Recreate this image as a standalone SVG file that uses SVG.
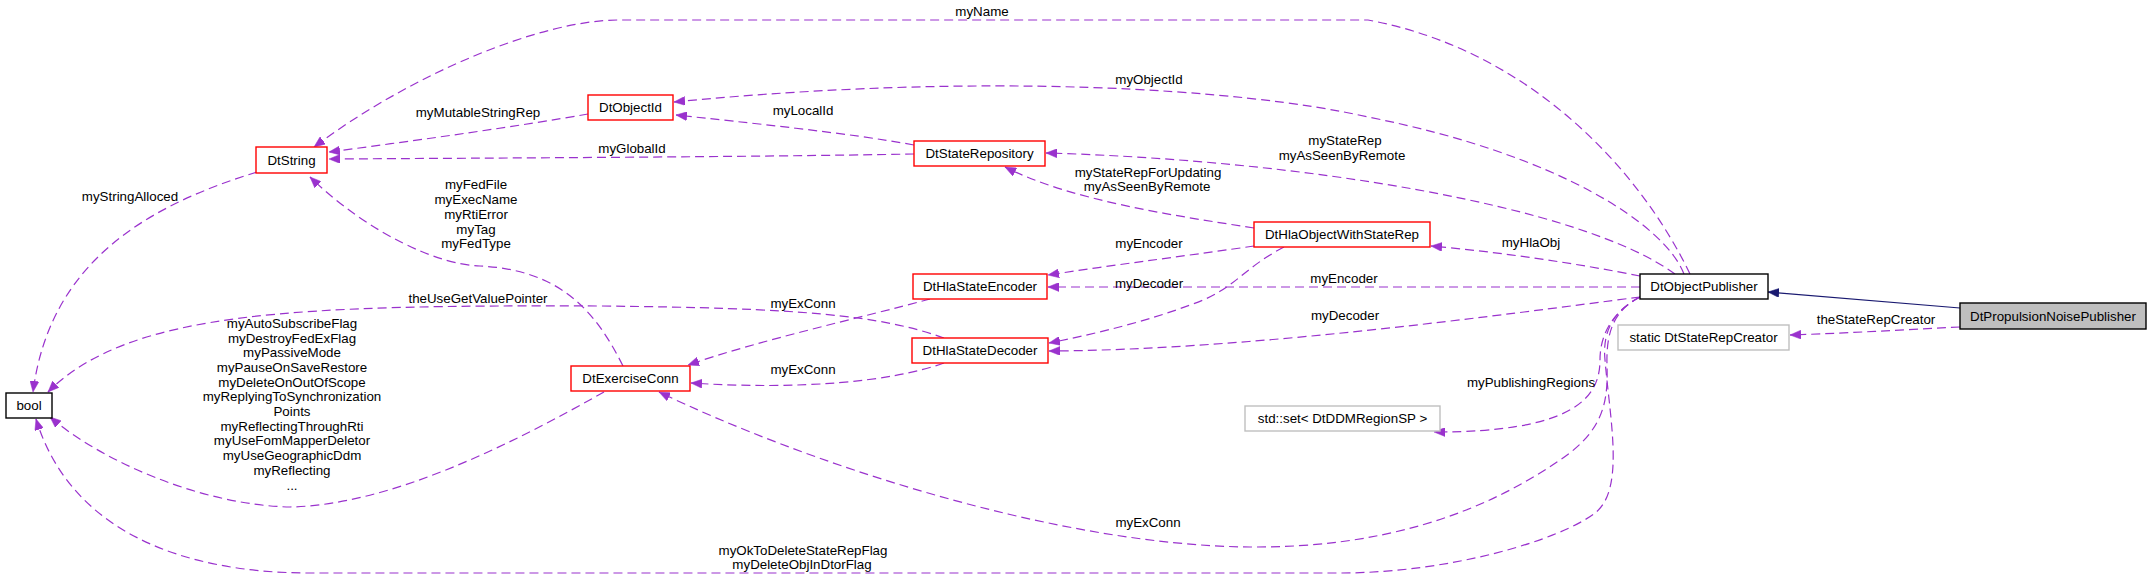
<svg xmlns="http://www.w3.org/2000/svg" width="2152" height="579" viewBox="0 0 2152 579">
<style>
text{font-family:"Liberation Sans",Arial,sans-serif;font-size:13.33px;fill:#000}
.n text{text-anchor:middle}
.lbl{text-anchor:middle}
.red{fill:#fff;stroke:#ff0000;stroke-width:1.4}
.blk{fill:#fff;stroke:#000;stroke-width:1.4}
.gry{fill:#fff;stroke:#bfbfbf;stroke-width:1.4}
.cur{fill:#bfbfbf;stroke:#000;stroke-width:1.4}
.e{fill:none;stroke:#9a32cd;stroke-width:1.2;stroke-dasharray:9,5;marker-end:url(#ap)}
.inh{fill:none;stroke:#191970;stroke-width:1.2;marker-end:url(#ab)}
</style>
<defs>
<marker id="ap" markerUnits="userSpaceOnUse" markerWidth="12" markerHeight="9" refX="11" refY="4.5" orient="auto">
<path d="M0,0 L11,4.5 L0,9 z" fill="#9a32cd" stroke="#9a32cd" stroke-width="0.5"/>
</marker>
<marker id="ab" markerUnits="userSpaceOnUse" markerWidth="12" markerHeight="9" refX="11" refY="4.5" orient="auto">
<path d="M0,0 L11,4.5 L0,9 z" fill="#191970" stroke="#191970" stroke-width="0.5"/>
</marker>
</defs>
<rect width="2152" height="579" fill="#fff"/>
<g id="connectors">
<path class="e" d="M1690,274 C1640,170 1530,50 1368,20 L619,20 C540,20 410,75 314,147"/>
<path class="e" d="M1684,274 C1665,225 1560,155 1368,117 C1240,88 980,72 674,102"/>
<path class="e" d="M1675,274 C1580,205 1300,160 1046,153"/>
<path class="e" d="M1640,276 C1580,264 1500,252 1431,246"/>
<path class="e" d="M1640,287 L1048,287"/>
<path class="e" d="M1640,297 C1500,315 1250,350 1049,351"/>
<path class="e" d="M1254,246 C1200,254 1120,264 1048,275"/>
<path class="e" d="M1284,247 C1240,270 1235,290 1190,305 C1150,320 1100,333 1049,343"/>
<path class="e" d="M1254,228 C1170,215 1070,200 1005,167"/>
<path class="e" d="M914,145 C850,133 740,122 676,115"/>
<path class="e" d="M914,154 C750,157 500,158 329,159"/>
<path class="e" d="M588,114 C520,126 420,140 329,152"/>
<path class="e" d="M257,172 C150,205 50,260 33,392"/>
<path class="e" d="M623,366 C595,310 560,270 480,266 C440,265 370,235 310,177"/>
<path class="e" d="M944,338 C880,315 800,308 600,306 C300,305 130,310 48,392"/>
<path class="e" d="M930,299 C860,318 760,340 688,365"/>
<path class="e" d="M944,363 C890,382 800,390 691,383"/>
<path class="e" d="M604,392 C510,445 390,505 290,507 C200,505 100,460 50,417"/>
<path class="e" d="M1640,297 C1615,310 1602,330 1605,360 C1610,420 1625,490 1595,513 C1560,540 1450,573 1340,573 L310,573 C180,573 70,530 36,419"/>
<path class="e" d="M1640,297 C1615,310 1606,330 1607,365 C1608,400 1605,430 1560,460 C1480,515 1380,548 1250,547 C1050,545 800,460 659,392"/>
<path class="e" d="M1640,297 C1612,312 1600,335 1600,360 C1600,400 1570,432 1434,432"/>
<path class="e" d="M1960,327 C1900,330 1850,333 1790,335"/>
<path class="inh" d="M1960,308 L1768,292"/>
<text class="lbl" x="982" y="16">myName</text>
<text class="lbl" x="1149" y="84">myObjectId</text>
<text class="lbl" x="1345" y="145">myStateRep</text>
<text class="lbl" x="1342" y="160">myAsSeenByRemote</text>
<text class="lbl" x="1531" y="247">myHlaObj</text>
<text class="lbl" x="1344" y="283">myEncoder</text>
<text class="lbl" x="1345" y="320">myDecoder</text>
<text class="lbl" x="1149" y="248">myEncoder</text>
<text class="lbl" x="1149" y="288">myDecoder</text>
<text class="lbl" x="1148" y="177">myStateRepForUpdating</text>
<text class="lbl" x="1147" y="191">myAsSeenByRemote</text>
<text class="lbl" x="803" y="115">myLocalId</text>
<text class="lbl" x="632" y="153">myGlobalId</text>
<text class="lbl" x="478" y="117">myMutableStringRep</text>
<text class="lbl" x="130" y="201">myStringAlloced</text>
<text class="lbl" x="476" y="189">myFedFile</text>
<text class="lbl" x="476" y="204">myExecName</text>
<text class="lbl" x="476" y="219">myRtiError</text>
<text class="lbl" x="476" y="234">myTag</text>
<text class="lbl" x="476" y="248">myFedType</text>
<text class="lbl" x="478" y="303">theUseGetValuePointer</text>
<text class="lbl" x="803" y="308">myExConn</text>
<text class="lbl" x="803" y="374">myExConn</text>
<text class="lbl" x="292" y="328">myAutoSubscribeFlag</text>
<text class="lbl" x="292" y="343">myDestroyFedExFlag</text>
<text class="lbl" x="292" y="357">myPassiveMode</text>
<text class="lbl" x="292" y="372">myPauseOnSaveRestore</text>
<text class="lbl" x="292" y="387">myDeleteOnOutOfScope</text>
<text class="lbl" x="292" y="401">myReplyingToSynchronization</text>
<text class="lbl" x="292" y="416">Points</text>
<text class="lbl" x="292" y="431">myReflectingThroughRti</text>
<text class="lbl" x="292" y="445">myUseFomMapperDeletor</text>
<text class="lbl" x="292" y="460">myUseGeographicDdm</text>
<text class="lbl" x="292" y="475">myReflecting</text>
<text class="lbl" x="292" y="490">...</text>
<text class="lbl" x="803" y="555">myOkToDeleteStateRepFlag</text>
<text class="lbl" x="802" y="569">myDeleteObjInDtorFlag</text>
<text class="lbl" x="1148" y="527">myExConn</text>
<text class="lbl" x="1531" y="387">myPublishingRegions</text>
<text class="lbl" x="1876" y="324">theStateRepCreator</text>
</g>
<g id="DtPropulsionNoisePublisher" class="n"><rect class="cur" x="1960" y="303" width="186" height="26"/><text x="2053" y="321">DtPropulsionNoisePublisher</text></g>
<g id="DtObjectPublisher" class="n"><rect class="blk" x="1640" y="274" width="128" height="25"/><text x="1704" y="291">DtObjectPublisher</text></g>
<g id="DtString" class="n"><rect class="red" x="256" y="147" width="71" height="26"/><text x="291.5" y="165">DtString</text></g>
<g id="bool" class="n"><rect class="blk" x="6" y="393" width="46" height="25"/><text x="29" y="410">bool</text></g>
<g id="DtObjectId" class="n"><rect class="red" x="588" y="95" width="85" height="25"/><text x="630.5" y="112">DtObjectId</text></g>
<g id="DtStateRepository" class="n"><rect class="red" x="914" y="141" width="131" height="25"/><text x="979.5" y="158">DtStateRepository</text></g>
<g id="DtHlaStateEncoder" class="n"><rect class="red" x="913" y="274" width="134" height="25"/><text x="980" y="291">DtHlaStateEncoder</text></g>
<g id="DtHlaStateDecoder" class="n"><rect class="red" x="912" y="338" width="136" height="25"/><text x="980" y="355">DtHlaStateDecoder</text></g>
<g id="DtExerciseConn" class="n"><rect class="red" x="571" y="366" width="119" height="25"/><text x="630.5" y="383">DtExerciseConn</text></g>
<g id="DtHlaObjectWithStateRep" class="n"><rect class="red" x="1254" y="222" width="176" height="25"/><text x="1342" y="239">DtHlaObjectWithStateRep</text></g>
<g id="DtStateRepCreator" class="n"><rect class="gry" x="1618" y="325" width="171" height="25"/><text x="1703.5" y="342">static DtStateRepCreator</text></g>
<g id="DtDDMRegionSPSet" class="n"><rect class="gry" x="1245" y="406" width="195" height="25"/><text x="1342.5" y="423">std::set&lt; DtDDMRegionSP &gt;</text></g>
</svg>
